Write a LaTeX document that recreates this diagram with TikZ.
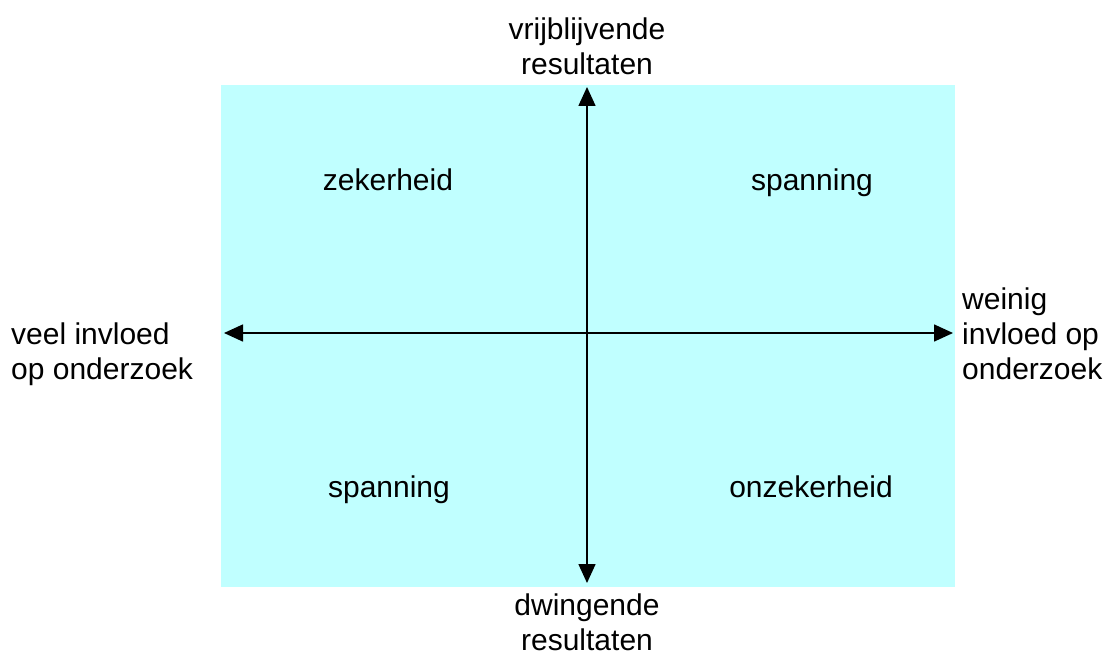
\documentclass[tikz,border=0pt]{standalone}
\usepackage{fontspec}
\setmainfont{Liberation Sans}
\usepackage{xcolor}
\usepackage{tikz}
\usetikzlibrary{arrows.meta, positioning}
\definecolor{quadcyan}{RGB}{192, 255, 255}

\tikzset{
    axislabel/.style={font=\fontsize{30}{35}\selectfont, inner sep=0pt},
    quadlabel/.style={font=\fontsize{30}{35}\selectfont, inner sep=0pt, anchor=base},
    axisline/.style={{Triangle[length=19pt,width=17pt]}-{Triangle[length=19pt,width=17pt]}, line width=1.6pt},
}

\begin{document}
\begin{tikzpicture}[x=1pt, y=-1pt]
    \useasboundingbox (0,0) rectangle (1113,655);

    % The quadrant field
    \fill[quadcyan] (221,85) rectangle (955,587);

    % Axes
    \coordinate (top) at (587,87);
    \coordinate (bottom) at (587,583);
    \coordinate (left) at (224,333);
    \coordinate (right) at (953,333);
    \draw[axisline] (bottom) -- (top);
    \draw[axisline] (left) -- (right);

    % Axis ends
    \node[axislabel, align=center] (vrij) at (587,46) {vrijblijvende\\resultaten};
    \node[axislabel, align=center] (dwing) at (587,622) {dwingende\\resultaten};
    \node[axislabel, align=left, anchor=west] (veel) at (11,354) {veel invloed\\op onderzoek};
    \node[axislabel, align=left, anchor=west] (weinig) at (962,334) {weinig\\invloed op\\onderzoek};

    % Quadrants
    \node[quadlabel] (zeker) at (388,190) {zekerheid};
    \node[quadlabel] (spanA) at (812,191) {spanning};
    \node[quadlabel] (spanB) at (389,497) {spanning};
    \node[quadlabel] (onzeker) at (811,497) {onzekerheid};
\end{tikzpicture}
\end{document}
